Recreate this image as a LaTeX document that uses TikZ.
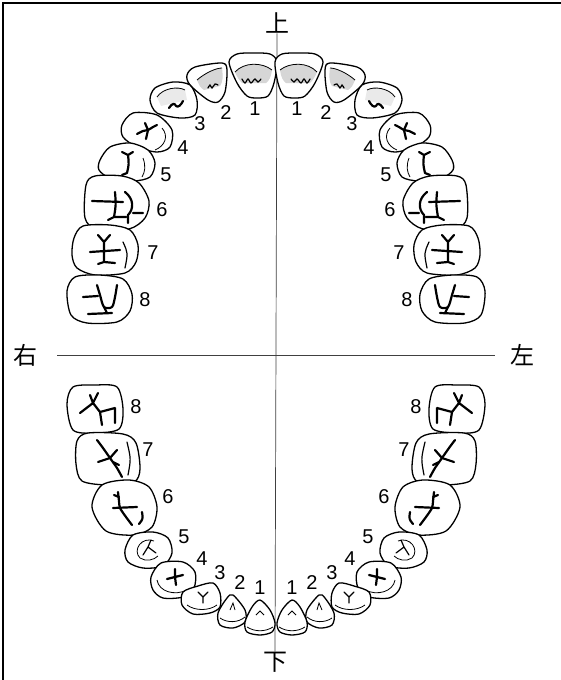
\documentclass[tikz,border=0pt]{standalone}
\usepackage{fontspec}
\newfontfamily\numfont{Liberation Sans}
\newfontfamily\cjk{Noto Sans CJK JP}

% one half of the upper arch, x measured from the midline
\newcommand{\upperjaw}[1]{%
  \begin{scope}[shift={(-24,75)}]
    \draw[tooth] plot[smooth cycle] coordinates {(-23,-13) (-15,-21) (1,-22) (18,-21) (25,-13) (22,8) (16,21) (5,23) (-5,21) (-15,8)};
    \fill[enamel] (-17,-3) .. controls (-8,-13) and (10,-13) .. (20,-5) .. controls (19,2) and (17,6) .. (14,8) -- (-10,8) .. controls (-13,5) and (-15,2) .. cycle;
    \draw[ridge] (-17,-3) .. controls (-8,-13) and (10,-13) .. (20,-5);
    \draw[groove] plot[smooth] coordinates {(-10,4) (-7,8) (-4,4) (-1,8) (3,4) (6,7) (9,4)};
  \end{scope}
  \begin{scope}[shift={(-68,82)}]
    \draw[tooth] plot[smooth cycle] coordinates {(-21,-7) (-13,-15) (14,-19) (19,-12) (17,10) (10,20) (0,18) (-18,3)};
    \fill[enamel] (-11,-2) .. controls (-3,-9) and (8,-14) .. (14,-14) .. controls (15,-6) and (15,0) .. (12,4) -- (-4,8) .. controls (-8,5) .. cycle;
    \draw[ridge] (-11,-2) .. controls (-3,-9) and (8,-14) .. (14,-14);
    \draw[groove] plot[smooth] coordinates {(0,6) (2,3) (4,6) (7,2) (10,3)};
  \end{scope}
  \begin{scope}[shift={(-103,100)}]
    \draw[tooth] plot[smooth cycle] coordinates {(-23,0) (-18,-12) (0,-18) (17,-15) (24,0) (22,15) (7,18) (-16,13)};
    \fill[enamel,opacity=0.5] (-16,-3) .. controls (-10,-12) and (5,-14) .. (12,-10) -- (14,0) -- (-12,6) -- cycle;
    \draw[ridge] (-16,-3) .. controls (-10,-12) and (5,-14) .. (12,-10);
    \draw[fissure] (-4,8) .. controls (-1,3) and (2,3) .. (3,6) .. controls (5,8) and (8,5) .. (10,1);
  \end{scope}
  \begin{scope}[shift={(-129,132)}]
    \draw[tooth] plot[smooth cycle] coordinates {(-25,-7) (-14,-19) (10,-17) (25,-2) (23,15) (10,20) (-10,15) (-24,5)};
    \draw[ridge] (15,-4) .. controls (22,4) and (18,14) .. (8,18);
    \draw[fissure] plot[smooth] coordinates {(-10,2) (-4,-1) (1,-2) (6,-5) (10,-7)};
    \draw[fissure] (1,-2) -- (-2,-9) (1,-2) -- (-1,7);
  \end{scope}
  \begin{scope}[shift={(-149,162)}]
    \draw[tooth] plot[smooth cycle] coordinates {(-27,-2) (-17,-15) (3,-19) (21,-12) (28,1) (23,15) (6,19) (-17,16) (-28,8)};
    \draw[ridge] (16,-4) .. controls (19,4) and (18,10) .. (15,15);
    \draw[fissure] (1,-7) .. controls (2,2) .. (0,11) -- (-5,13) (-5,-10) -- (1,-7) -- (6,-10);
  \end{scope}
  \begin{scope}[shift={(-159,203)}]
    \draw[tooth] plot[smooth cycle] coordinates {(-31,-18) (-22,-27) (5,-27) (22,-20) (32,-2) (28,15) (12,26) (-20,26) (-32,15)};
    \draw[fissure] (-25,-2) -- (6,-1) (-2,-11) .. controls (-1,2) .. (-3,14) -- (9,14) (-3,14) -- (-9,17) (8,-11) .. controls (17,-4) and (17,6) .. (11,12) -- (11,20) (16,10) -- (26,10);
  \end{scope}
  \begin{scope}[shift={(-171,250)}]
    \draw[tooth] plot[smooth cycle] coordinates {(-31,-12) (-22,-24) (5,-25) (25,-20) (33,-5) (31,12) (20,23) (-10,25) (-28,18) (-33,5)};
    \draw[fissure] (-1,-8) -- (-1,12) -- (10,13) (-1,12) -- (-7,14) (-15,2) -- (15,0) (-7,-15) -- (-1,-8) -- (5,-15);
    \draw[groove] (18,-8) .. controls (23,3) .. (20,18);
  \end{scope}
  \begin{scope}[shift={(-177,299)}]
    \draw[tooth] plot[smooth cycle] coordinates {(-32,-8) (-24,-22) (0,-24) (24,-20) (33,-5) (31,12) (18,23) (-12,24) (-28,16)};
    \draw[fissure] plot[smooth] coordinates {(-2,-14) (1,-4) (5,8) (13,8) (16,-2) (18,-14)};
    \draw[fissure] (-16,-2) -- (-1,-3) (-11,15) -- (13,14) (5,8) -- (8,14);
  \end{scope}
  \node[num] (u1#1) at (-21,109) {1};
  \node[num] (u2#1) at (-50,113) {2};
  \node[num] (u3#1) at (-76,124) {3};
  \node[num] (u4#1) at (-93,148) {4};
  \node[num] (u5#1) at (-110,175) {5};
  \node[num] (u6#1) at (-114,210) {6};
  \node[num] (u7#1) at (-123,253) {7};
  \node[num] (u8#1) at (-131,300) {8};
}

% one half of the lower arch
\newcommand{\lowerjaw}[1]{%
  \begin{scope}[shift={(-181,409)}]
    \draw[tooth] plot[smooth cycle] coordinates {(-28,-5) (-22,-22) (0,-24) (22,-22) (28,0) (24,20) (0,24) (-22,21)};
    \draw[fissure] (-5,-14) -- (-2,-6) -- (3,-16) (-2,-6) -- (-15,4) (-2,-6) -- (5,3) -- (20,-1) (5,3) -- (7,16) (20,-1) -- (20,14);
  \end{scope}
  \begin{scope}[shift={(-168,459)}]
    \draw[tooth] plot[smooth cycle] coordinates {(-31,-18) (-20,-26) (15,-25) (28,-16) (32,10) (26,23) (0,26) (-26,22) (-32,5)};
    \draw[groove] (19,-17) .. controls (23,0) .. (20,16);
    \draw[fissure] plot[smooth] coordinates {(-11,-19) (-5,-11) (2,-1) (9,9) (14,18)};
    \draw[fissure] (-10,3) -- (2,-1) (2,-1) -- (9,-9) (5,3) -- (11,6);
  \end{scope}
  \begin{scope}[shift={(-152,507)}]
    \draw[tooth] plot[smooth cycle] coordinates {(-32,0) (-22,-22) (5,-27) (25,-20) (33,0) (28,20) (10,28) (-18,24)};
    \draw[fissure] plot[smooth] coordinates {(-6,-15) (-5,-6) (-4,1) (2,10) (8,18)};
    \draw[fissure] (-11,1) -- (13,0) (-5,-10) -- (-10,-12) (18,5) .. controls (19,12) .. (15,17);
  \end{scope}
  \begin{scope}[shift={(-128,550)}]
    \draw[tooth] plot[smooth cycle] coordinates {(-23,0) (-15,-15) (5,-18) (20,-12) (24,3) (15,16) (-5,18) (-20,12)};
    \draw[ridge] (6,-9) .. controls (-6,-14) and (-16,0) .. (-8,8) .. controls (-2,12) and (6,10) .. (10,6);
    \draw[groove] (0,-3) -- (3,-10) (0,-3) -- (-5,5) (0,-3) -- (8,3);
  \end{scope}
  \begin{scope}[shift={(-103,580)}]
    \draw[tooth] plot[smooth cycle] coordinates {(-22,-3) (-12,-17) (10,-18) (22,-8) (21,8) (10,17) (-10,18) (-20,10)};
    \draw[ridge] (-16,0) .. controls (-14,12) and (2,16) .. (14,10);
    \draw[fissure] (2,-3) -- (2,-11) (2,-3) -- (-6,-1) (2,-3) -- (10,-5) (2,-3) -- (3,5);
  \end{scope}
  \begin{scope}[shift={(-75,600)}]
    \draw[tooth] plot[smooth cycle] coordinates {(-18,-8) (-3,-14) (12,-17) (19,-7) (19,7) (9,13) (-8,14) (-19,5)};
    \draw[ridge] (-14,5) .. controls (-6,11) and (8,11) .. (16,5);
    \draw[groove] (2,-3) -- (-3,-8) (2,-3) -- (7,-8) (2,-3) -- (2,3);
  \end{scope}
  \begin{scope}[shift={(-44,610)}]
    \draw[tooth] plot[smooth cycle] coordinates {(1,-15) (13,0) (13,12) (1,18) (-12,15) (-14,3) (-5,-12)};
    \draw[ridge] (-12,8) .. controls (-5,13) and (6,13) .. (13,7);
    \draw[ridge] (-2,0) -- (1,-7) -- (3,0);
  \end{scope}
  \begin{scope}[shift={(-16,618)}]
    \draw[tooth] plot[smooth cycle] coordinates {(0,-18) (10,-8) (15,5) (12,14) (0,17) (-13,14) (-15,4) (-8,-11)};
    \draw[ridge] (-13,9) .. controls (-5,14) and (5,14) .. (13,9);
    \draw[ridge] (-4,-3) -- (0,-7) -- (4,-3);
  \end{scope}
  \node[num] (l8#1) at (-140,407) {8};
  \node[num] (l7#1) at (-128,450) {7};
  \node[num] (l6#1) at (-108,497) {6};
  \node[num] (l5#1) at (-92,537) {5};
  \node[num] (l4#1) at (-74,559) {4};
  \node[num] (l3#1) at (-56,573) {3};
  \node[num] (l2#1) at (-36,583) {2};
  \node[num] (l1#1) at (-16,588) {1};
}

\begin{document}
\begin{tikzpicture}[x=1pt,y=-1pt,
    tooth/.style={draw=black,line width=1.3pt,fill=white,line join=round},
    enamel/.style={fill=black!16},
    ridge/.style={line width=0.8pt},
    groove/.style={line width=1.2pt,line cap=round},
    fissure/.style={line width=2.2pt,line cap=round,line join=round},
    num/.style={font=\numfont\fontsize{20}{20}\selectfont,inner sep=0pt},
    dir/.style={font=\cjk\fontsize{24}{24}\selectfont,inner sep=0pt},
    axis/.style={line width=0.7pt,draw=black!75}]
    \useasboundingbox (0,0) rectangle (561,680);
    \draw[line width=1.6pt] (3,680) -- (3,3) -- (561,3);

    \node[dir] (up) at (277,23) {上};
    \node[dir] (down) at (275,662) {下};
    \node[dir] (right) at (25,355) {右};
    \node[dir] (left) at (522,355) {左};
    \draw[axis] (up.south) -- (down.north);
    \draw[axis] ([xshift=20pt]right.east) -- ([xshift=-15pt]left.west);

    \begin{scope}[shift={(276,0)}]
      \upperjaw{r}
      \lowerjaw{r}
    \end{scope}
    \begin{scope}[shift={(276,0)},xscale=-1]
      \upperjaw{l}
      \lowerjaw{l}
    \end{scope}
\end{tikzpicture}
\end{document}
